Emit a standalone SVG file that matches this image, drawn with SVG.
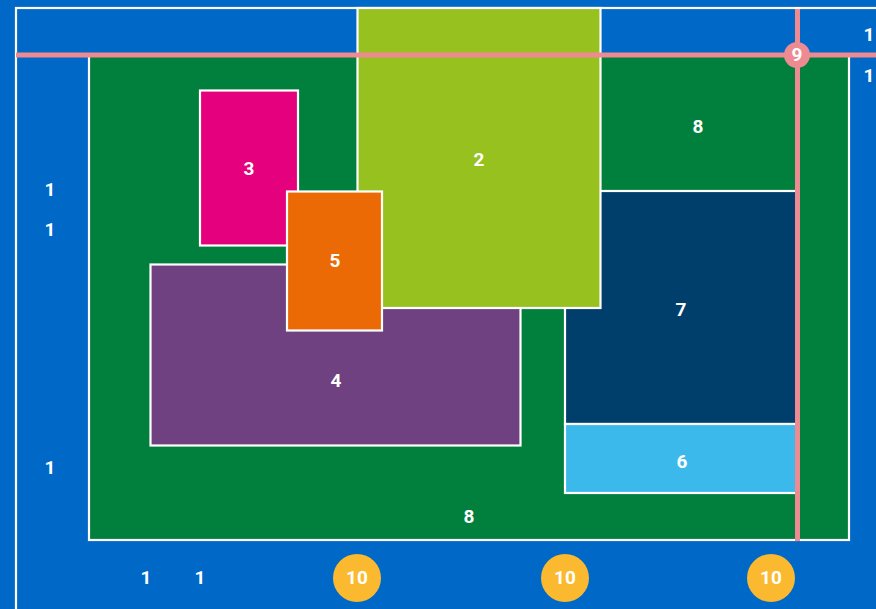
<svg xmlns="http://www.w3.org/2000/svg" width="876" height="609" viewBox="0 0 876 609">
<style>
.b{stroke:#fff;stroke-width:2.2}
.t{font-family:Roboto,"Liberation Sans",sans-serif;font-weight:bold;font-size:19px;fill:#fff;text-anchor:middle;dominant-baseline:central}
.p{stroke:#ee8a92;stroke-width:5;fill:none}
.c10{fill:#fbb92f}
</style>
<rect width="876" height="609" fill="#0068c6"/>
<rect x="16" y="8" width="900" height="700" fill="none" class="b"/>
<g id="n8">
<rect x="89" y="55" width="760" height="485" fill="#00803c" class="b"/>
<text class="t" x="698" y="126">8</text>
<text class="t" x="469" y="516">8</text>
</g>
<g id="n4"><rect x="150.5" y="264.5" width="370" height="181" fill="#6f4180" class="b"/><text class="t" x="336" y="380">4</text></g>
<g id="n7"><rect x="565" y="191" width="232" height="233" fill="#003e6c" class="b"/><text class="t" x="681" y="309">7</text></g>
<g id="n6"><rect x="565" y="424" width="232" height="69" fill="#3cb9eb" class="b"/><text class="t" x="682" y="461">6</text></g>
<g id="n2"><rect x="357.5" y="8" width="243" height="300" fill="#97c11f" class="b"/><text class="t" x="479" y="159">2</text></g>
<g id="n3"><rect x="200" y="90.5" width="98" height="155" fill="#e5007d" class="b"/><text class="t" x="249" y="168">3</text></g>
<g id="n5"><rect x="287" y="191.5" width="95" height="139" fill="#ec6a06" class="b"/><text class="t" x="335" y="260">5</text></g>
<g id="connectors">
<line class="p" x1="16" y1="55" x2="876" y2="55"/>
<line class="p" x1="797.5" y1="9" x2="797.5" y2="541"/>
</g>
<g id="n9"><circle cx="797" cy="55" r="13" fill="#ee8a92"/><text class="t" x="797" y="54">9</text></g>
<g id="n1">
<text class="t" x="50" y="189">1</text>
<text class="t" x="50" y="229">1</text>
<text class="t" x="50" y="467">1</text>
<text class="t" x="146" y="577">1</text>
<text class="t" x="200" y="577">1</text>
<text class="t" x="869" y="34">1</text>
<text class="t" x="869" y="75">1</text>
</g>
<g id="n10">
<circle class="c10" cx="357" cy="578" r="24"/><text class="t" x="357" y="577">10</text>
<circle class="c10" cx="565" cy="578" r="24"/><text class="t" x="565" y="577">10</text>
<circle class="c10" cx="771" cy="578" r="24"/><text class="t" x="771" y="577">10</text>
</g>
</svg>
